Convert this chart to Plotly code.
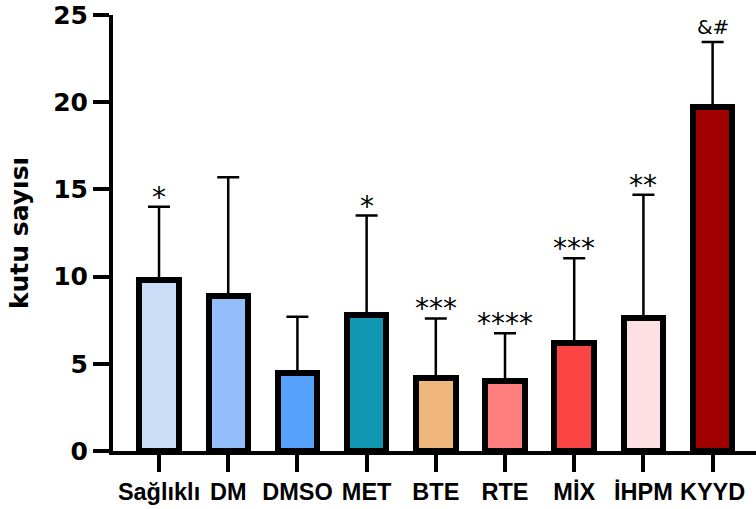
import plotly.graph_objects as go

# Group labels and measurements (mean, upper SD)
groups = ["Sağlıklı", "DM", "DMSO", "MET", "BTE", "RTE", "MİX", "İHPM", "KYYD"]
means = [9.8, 8.9, 4.5, 7.8, 4.2, 4.0, 6.2, 7.6, 19.7]
upper_err = [4.2, 6.8, 3.2, 5.7, 3.4, 2.75, 4.85, 7.1, 3.75]
signif = ["*", "", "", "*", "***", "****", "***", "**", "&#"]
colors = ["#C9DDF7", "#92BFF9", "#55A1FB", "#1197B1", "#F0B77D",
          "#FF7F7F", "#FB4444", "#FDE0E3", "#A00000"]
y_ticks = [0, 5, 10, 15, 20, 25]

FONT = "DejaVu Sans"
XFONT = "Liberation Sans, Arial"

fig = go.Figure()
fig.add_trace(go.Bar(
    x=list(range(len(groups))),
    y=means,
    width=0.57,
    marker=dict(color=colors, line=dict(color="black", width=6)),
    error_y=dict(type="data", symmetric=False, array=upper_err,
                 arrayminus=[0] * len(groups), color="black",
                 thickness=2.5, width=11),
    showlegend=False,
))

# significance marks above the error bars
for i, (m, e, s) in enumerate(zip(means, upper_err, signif)):
    if not s:
        continue
    is_star = s.startswith("*")
    fig.add_annotation(
        x=i, y=m + e, text=s, showarrow=False,
        xanchor="center", yanchor="bottom",
        yshift=-9 if is_star else 1,
        font=dict(family=FONT, size=28 if is_star else 20, color="black"),
    )

fig.update_layout(
    width=756, height=509,
    margin=dict(l=113, r=0, t=15, b=58),
    plot_bgcolor="white", paper_bgcolor="white",
    bargap=0,
)
fig.update_xaxes(
    range=[-0.665, 8.627],
    tickmode="array", tickvals=list(range(len(groups))), ticktext=groups,
    ticks="outside", ticklen=17, tickwidth=3.5, tickcolor="black",
    showline=True, linecolor="black", linewidth=4,
    showgrid=False, zeroline=False,
    tickfont=dict(family=XFONT, size=23.5, color="black", weight="bold"),
)
fig.update_yaxes(
    range=[0, 25],
    tickmode="array", tickvals=y_ticks,
    ticks="outside", ticklen=16, tickwidth=3.5, tickcolor="black",
    showline=True, linecolor="black", linewidth=4,
    showgrid=False, zeroline=False,
    tickfont=dict(family=FONT, size=25, color="black", weight="bold"),
    title=dict(text="kutu sayısı", standoff=18,
               font=dict(family=FONT, size=25, color="black", weight="bold")),
)

fig.write_html("out.html")
